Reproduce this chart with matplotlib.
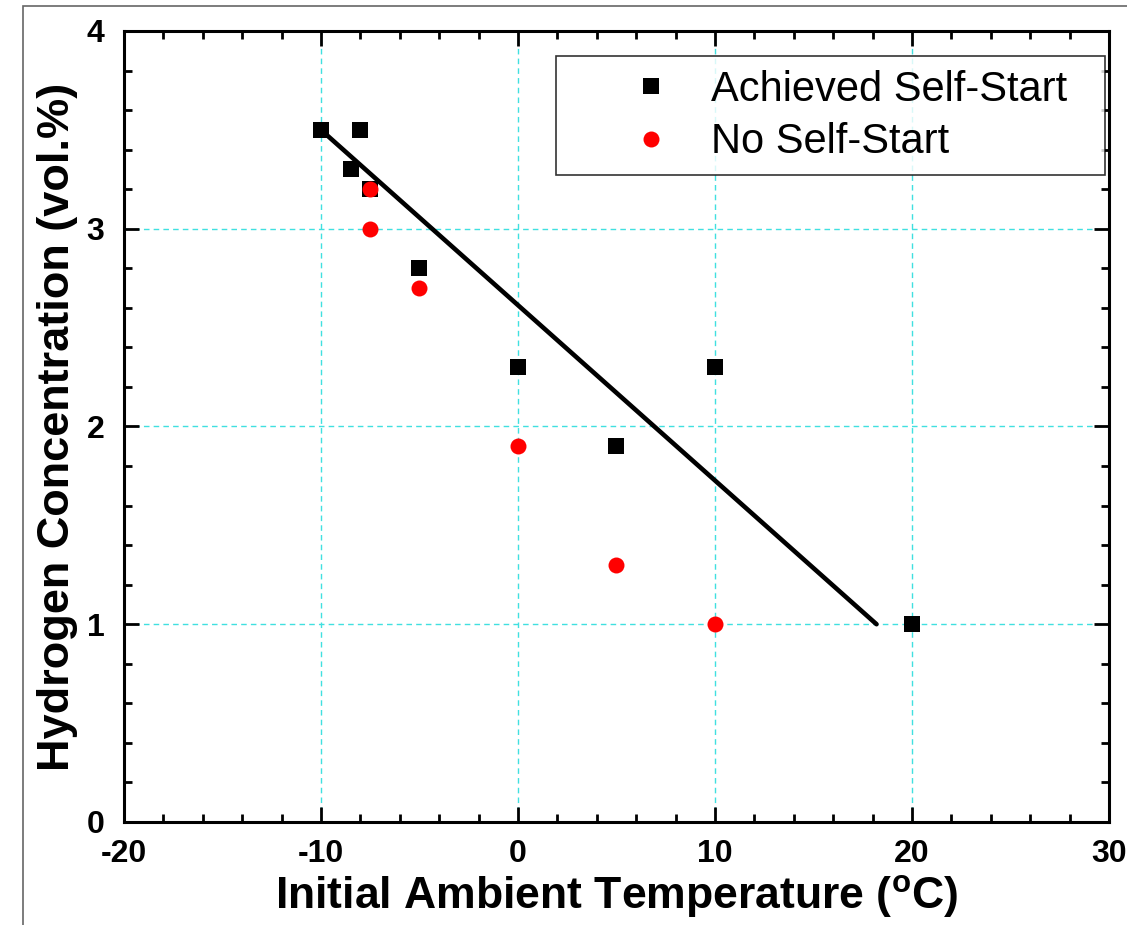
"""
    Hydrogen concentration needed for self-start vs initial ambient temperature
"""
import matplotlib
matplotlib.use('Agg')
import matplotlib.pyplot as plt
from matplotlib.patches import Rectangle
from matplotlib.ticker import MultipleLocator

# achieved self-start
ach_x = [-10, -8, -8.5, -7.5, -5, 0, 5, 10, 20]
ach_y = [3.5, 3.5, 3.3, 3.2, 2.8, 2.3, 1.9, 2.3, 1.0]
# no self-start
no_x = [-7.5, -7.5, -5, 0, 5, 10]
no_y = [3.2, 3.0, 2.7, 1.9, 1.3, 1.0]
# boundary line
line_x = [-10, 18.2]
line_y = [3.5, 1.0]

xticks = [-20, -10, 0, 10, 20, 30]
yticks = [0, 1, 2, 3, 4]

plt.rcParams['font.family'] = ['Liberation Sans', 'DejaVu Sans']
plt.rcParams['axes.unicode_minus'] = False
plt.rcParams['mathtext.fontset'] = 'custom'
plt.rcParams['mathtext.rm'] = 'Liberation Sans:bold'
plt.rcParams['mathtext.bf'] = 'Liberation Sans:bold'

fig = plt.figure(figsize=(11.27, 9.25), dpi=100)
ax = fig.add_axes([0.110, 0.1114, 0.874, 0.8551])

# screenshot frame
fig.patches.append(Rectangle((23/1127, -0.01), 1.0, 1 - 5.5/925 + 0.01,
                             transform=fig.transFigure, fill=False,
                             edgecolor='#666666', lw=1.2))

ax.grid(True, which='major', color='#40e0e0', linestyle=(0, (4, 3)), lw=1.0)
ax.set_axisbelow(True)

ax.plot(line_x, line_y, color='black', lw=3.3, solid_capstyle='round', zorder=2)
ax.plot(ach_x, ach_y, 's', color='black', ms=12, mew=0, label='Achieved Self-Start', zorder=3)
ax.plot(no_x, no_y, 'o', color='#ff0000', ms=11.5, mew=0, label='No Self-Start', zorder=4)

ax.set_xlim(-20, 30)
ax.set_ylim(0, 4)
ax.set_xticks(xticks)
ax.set_yticks(yticks)
ax.xaxis.set_minor_locator(MultipleLocator(2))
ax.yaxis.set_minor_locator(MultipleLocator(0.2))
ax.tick_params(which='both', direction='in', top=True, right=True, width=2)
ax.tick_params(which='major', length=11, labelsize=23)
ax.tick_params(axis='x', which='major', pad=12)
ax.tick_params(axis='y', which='major', pad=14)
ax.tick_params(which='minor', length=6)
for lab in ax.get_xticklabels() + ax.get_yticklabels():
    lab.set_fontweight('bold')
for sp in ax.spines.values():
    sp.set_linewidth(2.2)

ax.set_xlabel(r'Initial Ambient Temperature ($^\mathrm{o}$C)', fontsize=32, fontweight='bold', labelpad=3)
ax.set_ylabel('Hydrogen Concentration (vol.%)', fontsize=32.5, fontweight='bold', labelpad=6)

leg = ax.legend(loc='upper left', bbox_to_anchor=(0.4386, 0.5, 0.5574, 0.468), mode='expand',
                borderaxespad=0, fontsize=30, frameon=True, fancybox=False, borderpad=0.32,
                labelspacing=0.3, handlelength=3.9, handletextpad=-0.5)
leg.get_frame().set_edgecolor('black')
leg.get_frame().set_linewidth(1.2)

fig.savefig('out.png', dpi=100)
